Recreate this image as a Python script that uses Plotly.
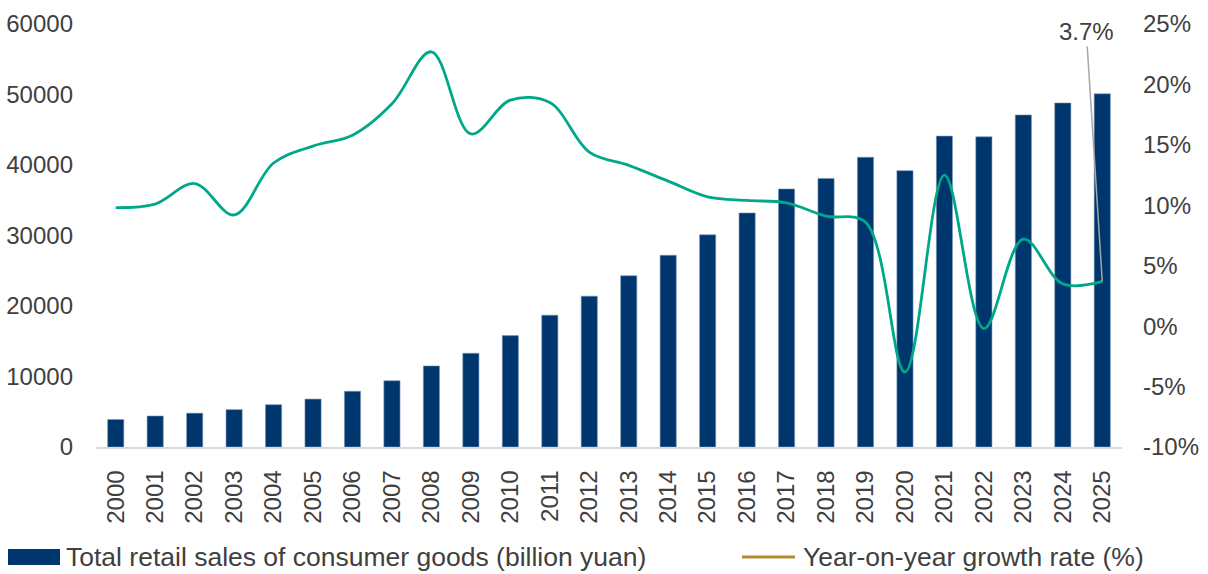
import plotly.graph_objects as go

# Data
years = [str(y) for y in range(2000, 2026)]
retail_sales = [3900, 4400, 4800, 5300, 6000, 6800, 7900, 9400, 11500, 13300,
                15800, 18700, 21400, 24300, 27200, 30100, 33200, 36600, 38100, 41100,
                39200, 44100, 44000, 47100, 48800, 50100]
growth_rate = [9.8, 10.1, 11.8, 9.2, 13.5, 14.9, 15.8, 18.4, 22.7, 15.9,
               18.7, 18.5, 14.4, 13.3, 12.0, 10.7, 10.4, 10.2, 9.1, 8.6,
               -3.8, 12.5, -0.2, 7.2, 3.5, 3.7]
left_ticks = [0, 10000, 20000, 30000, 40000, 50000, 60000]
right_ticks = [-10, -5, 0, 5, 10, 15, 20, 25]
bar_name = "Total retail sales of consumer goods (billion yuan)"
line_name = "Year-on-year growth rate (%)"

NAVY = "#00366E"
GREEN = "#00A88A"
GOLD = "#B68A35"
TEXT = "#404040"
FONT = "Liberation Sans, Arial, sans-serif"
FS = 24
LEG_FS = 26.5

fig = go.Figure()
fig.add_trace(go.Bar(
    x=years, y=retail_sales, name=bar_name, width=0.41,
    marker=dict(color=NAVY, line=dict(color="#7F97B5", width=0.6)),
    showlegend=False,
))
fig.add_trace(go.Scatter(
    x=years, y=growth_rate, name=line_name, yaxis="y2", mode="lines",
    line=dict(color=GREEN, width=2.8, shape="spline", smoothing=1.0),
    showlegend=False,
))

# Label for the latest growth value (category index of the last year)
fig.add_annotation(
    x=len(years) - 1, y=growth_rate[-1], xref="x", yref="y2",
    text=f"{growth_rate[-1]}%", showarrow=True, arrowhead=0,
    arrowwidth=1.5, arrowcolor="#A6A6A6", ax=-16, ay=-250, standoff=0,
    font=dict(family=FONT, size=FS, color=TEXT),
)

# Legend drawn below the axis
L, W, B, H = 96, 1026, 447, 423
def px(x):
    return (x - L) / W
def py(y):
    return (B - y) / H

fig.add_shape(type="rect", xref="paper", yref="paper",
              x0=px(8), x1=px(60), y0=py(549), y1=py(565),
              fillcolor=NAVY, line=dict(width=0))
fig.add_shape(type="line", xref="paper", yref="paper",
              x0=px(742), x1=px(795), y0=py(557), y1=py(557),
              line=dict(color=GOLD, width=3))
fig.add_annotation(xref="paper", yref="paper", x=px(64), y=py(557),
                   xanchor="left", yanchor="middle", showarrow=False,
                   text=bar_name, font=dict(family=FONT, size=LEG_FS, color=TEXT))
fig.add_annotation(xref="paper", yref="paper", x=px(801), y=py(557),
                   xanchor="left", yanchor="middle", showarrow=False,
                   text=line_name, font=dict(family=FONT, size=LEG_FS, color=TEXT))

fig.update_layout(
    width=1208, height=574,
    margin=dict(l=96, r=86, t=24, b=127, autoexpand=False),
    paper_bgcolor="white", plot_bgcolor="white",
    font=dict(family=FONT, size=FS, color=TEXT),
    xaxis=dict(
        type="category", tickangle=-90, showgrid=False, automargin=False,
        showline=True, linecolor="#D9D9D9", linewidth=1.5,
        ticks="", ticklabelstandoff=12,
        tickfont=dict(family=FONT, size=FS, color=TEXT),
    ),
    yaxis=dict(
        range=[0, 60000], tickvals=left_ticks, automargin=False,
        ticktext=[str(v) for v in left_ticks], showgrid=False,
        zeroline=False, showline=False, ticks="", ticklabelstandoff=22,
        tickfont=dict(family=FONT, size=FS, color=TEXT),
    ),
    yaxis2=dict(
        range=[-10, 25], tickvals=right_ticks, automargin=False,
        ticktext=[f"{v}%" for v in right_ticks],
        overlaying="y", side="right", showgrid=False, zeroline=False,
        showline=False, ticks="", ticklabelstandoff=20,
        tickfont=dict(family=FONT, size=FS, color=TEXT),
    ),
)

fig.write_html("out.html")
